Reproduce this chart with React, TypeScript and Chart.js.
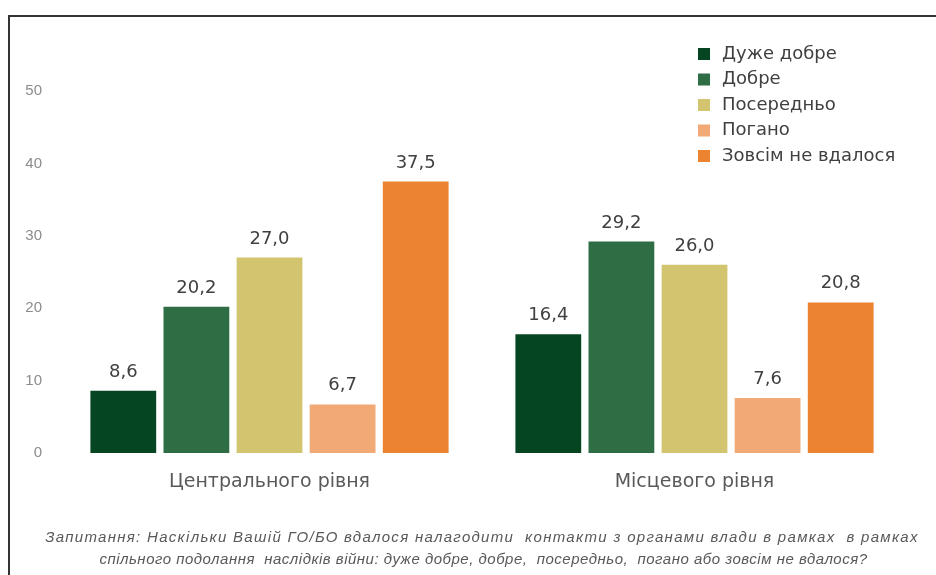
import React, { useEffect, useRef } from "react";
import { Chart, registerables } from "chart.js";

Chart.register(...registerables);

const categories = ["Центрального рівня", "Місцевого рівня"];
const seriesNames = ["Дуже добре", "Добре", "Посередньо", "Погано", "Зовсім не вдалося"];
const seriesColors = ["#064522", "#2f6d45", "#d3c56f", "#f1aa75", "#eb8331"];
const veryGood = [8.6, 16.4];
const good = [20.2, 29.2];
const medium = [27.0, 26.0];
const bad = [6.7, 7.6];
const failed = [37.5, 20.8];
const seriesValues = [veryGood, good, medium, bad, failed];
const yTicks = [0, 10, 20, 30, 40, 50];
const footnote1 = "Запитання: Наскільки Вашій ГО/БО вдалося налагодити  контакти з органами влади в рамках  в рамках";
const footnote2 = "спільного подолання  наслідків війни: дуже добре, добре,  посередньо,  погано або зовсім не вдалося?";

const valueLabelPlugin = {
  id: "valueLabels",
  afterDatasetsDraw(chart: any) {
    const ctx = chart.ctx;
    ctx.save();
    ctx.font = "18px 'DejaVu Sans', sans-serif";
    ctx.fillStyle = "#404040";
    ctx.textAlign = "center";
    ctx.textBaseline = "alphabetic";
    chart.data.datasets.forEach((ds: any, i: number) => {
      const meta = chart.getDatasetMeta(i);
      meta.data.forEach((el: any, j: number) => {
        const v = ds.data[j];
        ctx.fillText(v.toFixed(1).replace(".", ","), el.x, el.y - 14);
      });
    });
    ctx.restore();
  },
};

const legendPlugin = {
  id: "customLegend",
  afterDraw(chart: any) {
    const ctx = chart.ctx;
    ctx.save();
    ctx.font = "18px 'DejaVu Sans', sans-serif";
    ctx.textBaseline = "middle";
    ctx.textAlign = "left";
    seriesNames.forEach((name, i) => {
      const y = 54 + i * 25.5;
      ctx.fillStyle = seriesColors[i];
      ctx.fillRect(698, y - 6, 12, 12);
      ctx.fillStyle = "#404040";
      ctx.fillText(name, 722, y);
    });
    ctx.restore();
  },
};

export default function App() {
  const canvasRef = useRef<HTMLCanvasElement | null>(null);

  useEffect(() => {
    if (!canvasRef.current) return;
    const chart = new Chart(canvasRef.current, {
      type: "bar",
      data: {
        labels: categories,
        datasets: seriesNames.map((name, i) => ({
          label: name,
          data: seriesValues[i],
          backgroundColor: seriesColors[i],
          borderWidth: 0,
          categoryPercentage: 0.86,
          barPercentage: 0.9,
        })),
      },
      options: {
        animation: false,
        responsive: false,
        maintainAspectRatio: false,
        layout: { padding: { top: 91, right: 29, bottom: 78, left: 0 } },
        plugins: {
          legend: { display: false },
          tooltip: { enabled: false },
        },
        scales: {
          x: {
            grid: { display: false, drawTicks: false },
            border: { display: false },
            ticks: {
              color: "#595959",
              font: { family: "'DejaVu Sans', sans-serif", size: 19 },
              padding: 18,
            },
            afterFit(scale: any) {
              scale.height = 44;
            },
          },
          y: {
            min: 0,
            max: 50,
            grid: { display: false, drawTicks: false },
            border: { display: false },
            afterBuildTicks(scale: any) {
              scale.ticks = yTicks.map((v) => ({ value: v }));
            },
            ticks: {
              color: "#8c8c8c",
              font: { family: "'Liberation Sans', Arial, sans-serif", size: 15 },
              padding: 15,
            },
            afterFit(scale: any) {
              scale.width = 57;
            },
          },
        },
      },
      plugins: [valueLabelPlugin, legendPlugin],
    });
    return () => chart.destroy();
  }, []);

  const noteStyle: React.CSSProperties = {
    position: "absolute",
    fontFamily: "'Liberation Sans', Arial, sans-serif",
    fontStyle: "italic",
    fontSize: 15,
    lineHeight: "22px",
    color: "#595959",
    textAlign: "center",
    whiteSpace: "pre",
  };

  return (
    <div style={{ position: "absolute", left: 0, top: 0, width: 936, height: 575, overflow: "hidden", background: "#fff" }}>
      <div
        style={{
          position: "absolute",
          left: 8,
          top: 15,
          width: 940,
          height: 580,
          borderLeft: "2px solid #333",
          borderTop: "2px solid #333",
        }}
      />
      <canvas ref={canvasRef} width={936} height={575} style={{ position: "absolute", left: 0, top: 0 }} />
      <div style={{ ...noteStyle, left: 0, top: 526, width: 964, letterSpacing: "1.3px" }}>
        {footnote1}
      </div>
      <div style={{ ...noteStyle, left: 0, top: 548, width: 967, letterSpacing: "0.5px" }}>
        {footnote2}
      </div>
    </div>
  );
}
